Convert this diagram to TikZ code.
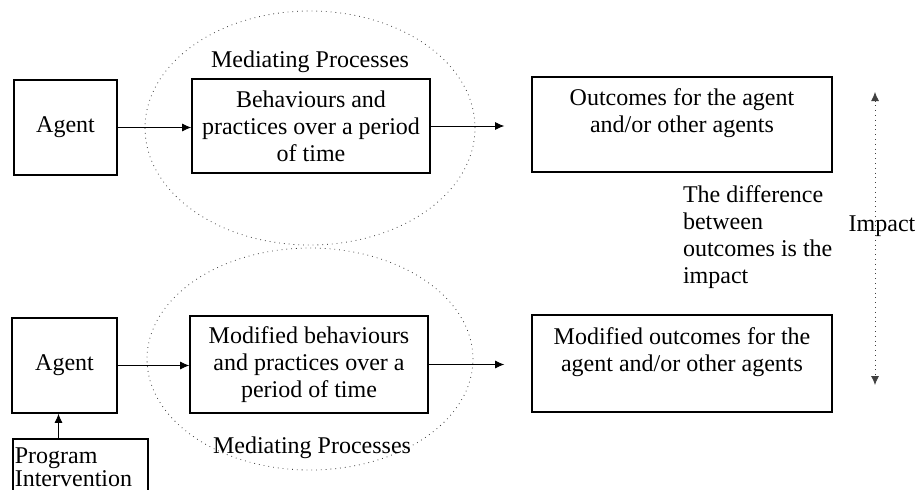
\documentclass[tikz,border=0pt]{standalone}
\usepackage{fontspec}
\setmainfont{Liberation Serif}
\usetikzlibrary{arrows.meta,shapes.geometric}

\begin{document}
\begin{tikzpicture}[x=0.5pt,y=-0.5pt]
		\useasboundingbox (0,0) rectangle (916,489);
		
		\begin{scope}[every node/.style={ellipse,draw=black!75,dotted,thin}]
			\node[minimum width=165pt,minimum height=117pt] (medA) at (310,128) {};
			\node[minimum width=163pt,minimum height=111pt] (medB) at (310,359) {};
		\end{scope}
		
		\begin{scope}[every node/.style={rectangle,thick,draw,align=center,inner sep=1pt,
					  font=\fontsize{12}{13.5}\selectfont}]
			\node[minimum width=51.5pt,minimum height=47.5pt] (agentA) at (65.5,127.5) {Agent};
			\node[minimum width=119pt,minimum height=47pt] (behavA) at (311,126) {Behaviours and\\practices over a period\\of time};
			\node[minimum width=150pt,minimum height=47.5pt] (outcA) at (682,124.5) {Outcomes for the agent\\and/or other agents\\\mbox{}};
			\node[minimum width=52.5pt,minimum height=47.5pt] (agentB) at (64.5,365.5) {Agent};
			\node[minimum width=119pt,minimum height=48.5pt] (behavB) at (309,364.5) {Modified behaviours\\and practices over a\\period of time};
			\node[minimum width=150pt,minimum height=48.5pt] (outcB) at (682,363.5) {Modified outcomes for the\\agent and/or other agents\\\mbox{}};
			\node[anchor=north west,align=left,text width=65.5pt,inner sep=1pt,minimum height=40pt,
				  font=\fontsize{12}{11.5}\selectfont] (prog) at (12,438) {Program\\Intervention\\\mbox{}};
		\end{scope}
		
		\begin{scope}[every node/.style={font=\fontsize{12}{13.5}\selectfont}]
			\node (medAlbl) at (310,62) {Mediating Processes};
			\node (medBlbl) at (312,448) {Mediating Processes};
			\node[anchor=north west,align=left] (diff) at (676,179) {The difference\\between\\outcomes is the\\impact};
			\node (imp) at (882,226) {Impact};
		\end{scope}
		
		\coordinate (impT) at (875,92);
		\coordinate (impB) at (875,385);
		
		\begin{scope}[>={Latex[length=4.5pt,width=4pt]}]
			\draw [->] (agentA.east) -- (agentA.east -| behavA.west);
			\draw [->,shorten >=13.5pt] (behavA.east) -- (behavA.east -| outcA.west);
			\draw [->] (agentB.east) -- (agentB.east -| behavB.west);
			\draw [->,shorten >=13.5pt] (behavB.east) -- (behavB.east -| outcB.west);
			\draw [->] ([xshift=-3pt]agentB.south |- prog.north) -- ([xshift=-3pt]agentB.south);
			\draw [<->,dotted,draw=black!75] (impT) -- (impB);
		\end{scope}
\end{tikzpicture}
\end{document}
